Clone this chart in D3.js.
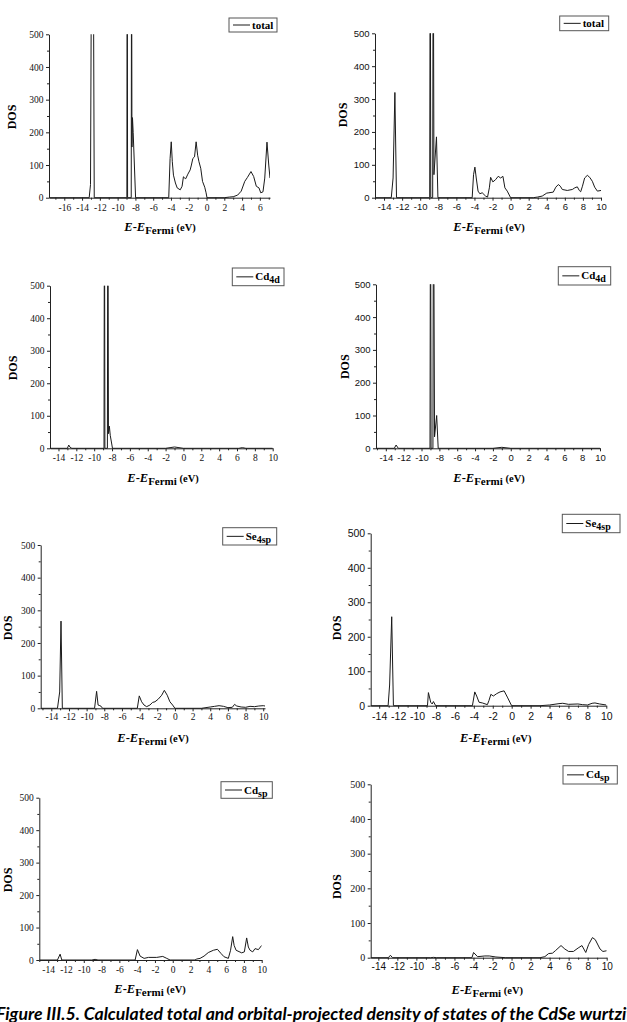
<!DOCTYPE html>
<html>
<head>
<meta charset="utf-8">
<script src="https://cdn.jsdelivr.net/npm/d3@7"></script>
<style>
body { margin:0; background:#fff; }
</style>
</head>
<body>
<svg id="fig" width="627" height="1022"></svg>
<script>
// DOS curves: [E - E_Fermi (eV), DOS]
// values above 500 are spikes that get clipped by the frame
var totalA = [[-17.7,0],[-13.2,0],[-13.05,40],[-12.92,900],[-12.75,900],[-12.63,0],[-8.96,0],[-8.92,900],[-8.88,0],[-8.47,0],[-8.43,900],[-8.39,155],[-8.33,245],[-8.25,200],[-7.98,0],[-4.25,0],[-4.1,120],[-3.97,171],[-3.85,110],[-3.72,69],[-3.5,45],[-3.3,30],[-2.96,24],[-2.75,35],[-2.6,64],[-2.45,60],[-2.34,58],[-2.1,72],[-1.84,85],[-1.7,100],[-1.54,120],[-1.35,125],[-1.17,171],[-1.0,130],[-0.85,110],[-0.65,90],[-0.45,50],[-0.2,32],[-0.05,15],[0.05,0],[2.0,0],[2.6,2],[3.0,3],[3.5,8],[3.9,20],[4.3,50],[4.6,62],[5.0,80],[5.3,65],[5.6,35],[5.9,30],[6.1,15],[6.35,18],[6.55,60],[6.8,170],[7.0,100],[7.14,60]];
var totalB = [[-15,0],[-13.2,0],[-13.0,60],[-12.8,320],[-12.62,0],[-8.95,0],[-8.89,900],[-8.83,0],[-8.62,0],[-8.56,900],[-8.48,70],[-8.2,185],[-8.04,0],[-4.25,0],[-4.1,70],[-3.95,93],[-3.8,60],[-3.6,20],[-3.4,12],[-3.14,15],[-2.77,5],[-2.55,2],[-2.35,30],[-2.21,62],[-1.96,48],[-1.66,55],[-1.37,65],[-1.1,60],[-0.85,65],[-0.63,30],[-0.37,20],[0,0],[2.5,0],[3.0,2],[3.5,5],[4.0,14],[4.24,15],[4.72,17],[5.0,32],[5.28,40],[5.5,35],[5.72,25],[6.27,22],[6.83,25],[7.1,30],[7.38,33],[7.6,22],[7.75,18],[7.95,35],[8.19,60],[8.49,68],[8.75,62],[9.04,50],[9.3,32],[9.6,20],[10,22]];
var cd4dA = [[-14.95,0],[-13.0,0],[-12.85,10],[-12.7,3],[-12.5,0],[-8.9,0],[-8.85,900],[-8.8,0],[-8.52,0],[-8.47,900],[-8.4,45],[-8.3,68],[-8.2,40],[-7.95,0],[-2.0,0],[-1.5,2],[-1.0,4],[-0.5,2],[0,0],[6.2,0],[6.6,2],[7.0,0],[10,0]];
var cd4dB = [[-15.1,0],[-13.05,0],[-12.85,10],[-12.6,0],[-9.05,0],[-8.99,900],[-8.93,0],[-8.72,0],[-8.66,900],[-8.54,35],[-8.3,100],[-8.13,0],[-2.0,0],[-1.0,3],[0,0],[10,0]];
var se4spA = [[-15.2,0],[-13.3,0],[-13.05,50],[-12.9,267],[-12.75,0],[-9.1,0],[-8.87,52],[-8.7,10],[-8.5,8],[-8.35,6],[-8.2,0],[-4.26,0],[-4.04,38],[-3.77,20],[-3.5,10],[-3.2,5],[-2.83,10],[-2.53,18],[-2.26,20],[-1.89,28],[-1.5,40],[-1.2,55],[-0.87,40],[-0.57,20],[-0.26,10],[0,0],[3.0,0],[4.0,4],[4.5,6],[5.0,8],[5.5,6],[6.0,2],[6.5,3],[6.75,12],[7.0,7],[7.5,4],[8.0,3],[8.5,6],[9.0,5],[9.5,7],[10.0,8],[10.2,7]];
var se4spB = [[-14.9,0],[-13.06,0],[-12.9,60],[-12.68,258],[-12.5,0],[-8.9,0],[-8.8,38],[-8.56,10],[-8.4,5],[-8.27,12],[-8.03,0],[-4.15,0],[-3.9,40],[-3.7,28],[-3.45,10],[-3.1,8],[-2.57,3],[-2.4,15],[-2.2,33],[-1.94,28],[-1.58,35],[-1.23,40],[-0.8,43],[-0.46,25],[-0.1,5],[0,0],[3.0,0],[4.0,2],[5.0,6],[5.4,7],[6.0,4],[7.0,5],[7.5,3],[8.0,2],[8.5,7],[8.8,8],[9.3,5],[10,2]];
var cdspA = [[-15,0],[-12.96,0],[-12.66,18],[-12.47,0],[-9.1,0],[-8.73,2],[-8.4,0],[-4.23,0],[-3.97,32],[-3.67,12],[-3.22,5],[-2.73,8],[-1.8,8],[-1.12,11],[-0.67,5],[-0.3,0],[2.5,0],[2.7,3],[3.07,5],[3.52,12],[4.0,23],[4.57,30],[5.02,33],[5.43,20],[5.77,10],[6.25,5],[6.5,30],[6.74,72],[6.9,45],[7.12,30],[7.75,22],[8.05,25],[8.31,68],[8.5,40],[8.69,30],[8.99,25],[9.25,35],[9.63,32],[10,45]];
var cdspB = [[-14.8,0],[-12.95,0],[-12.73,7],[-12.5,0],[-8.5,0],[-8.2,1],[-7.9,0],[-4.16,0],[-3.99,15],[-3.57,3],[-2.8,5],[-2.34,5],[-1.64,2],[-0.6,0],[3.0,0],[3.5,3],[3.9,12],[4.3,13],[4.6,20],[5.2,35],[5.6,25],[6.0,18],[6.5,18],[7.0,28],[7.4,35],[7.8,15],[8.1,38],[8.5,58],[8.8,52],[9.3,25],[9.6,18],[10,20]];

var yTicks = [0, 100, 200, 300, 400, 500];
var xTicksA = [-16, -14, -12, -10, -8, -6, -4, -2, 0, 2, 4, 6];
var xTicksB = [-14, -12, -10, -8, -6, -4, -2, 0, 2, 4, 6, 8, 10];
var legendNames = ["total", "total", "Cd", "Cd", "Se", "Se", "Cd", "Cd"];
var legendSubs = ["", "", "4d", "4d", "4sp", "4sp", "sp", "sp"];
var caption = "Figure III.5. Calculated total and orbital-projected density of states of the CdSe wurtzite structure.";

var serif = "'Liberation Serif','DejaVu Serif',serif",
    sans = "'Liberation Sans',Arial,sans-serif";

// frame of each small plot on the page
var panels = [
  {data: totalA, dom: [-17.72, 7.14], xt: xTicksA, x0: 49, x1: 270, yt: 34.3, yb: 197.7, leg: [229, 18, 48, 14], dosX: 12, dosY: 117, labX: 160, labY: 231, tickY: 211.5, xf: serif, yf: serif, fs: 9.5},
  {data: totalB, dom: [-15, 10], xt: xTicksB, x0: 375, x1: 601, yt: 33.3, yb: 197.7, leg: [559.7, 16, 49, 14.7], dosX: 343, dosY: 115, labX: 489, labY: 231, tickY: 210.5, xf: sans, yf: sans, fs: 9.5},
  {data: cd4dA, dom: [-14.95, 10], xt: xTicksB, x0: 50, x1: 272.7, yt: 285.7, yb: 448.3, leg: [232.3, 268, 51.7, 17.7], dosX: 13, dosY: 368, labX: 163, labY: 482, tickY: 461.5, xf: serif, yf: serif, fs: 9.5},
  {data: cd4dB, dom: [-15.1, 10], xt: xTicksB, x0: 376, x1: 600, yt: 284.3, yb: 448.3, leg: [558.3, 266.7, 52.4, 18.3], dosX: 344.7, dosY: 366.7, labX: 489, labY: 482, tickY: 461, xf: sans, yf: sans, fs: 9.5},
  {data: se4spA, dom: [-15.2, 10.2], xt: xTicksB, x0: 40.7, x1: 265, yt: 545, yb: 708.3, leg: [222.7, 527.7, 54, 17.3], dosX: 7.5, dosY: 628, labX: 153, labY: 742, tickY: 720, xf: serif, yf: serif, fs: 9.5},
  {data: se4spB, dom: [-14.9, 10], xt: xTicksB, x0: 370.7, x1: 606.3, yt: 533.3, yb: 705.7, leg: [562.3, 514.3, 57.7, 18.4], dosX: 336.7, dosY: 628, labX: 495.7, labY: 742, tickY: 720, xf: sans, yf: sans, fs: 10.5},
  {data: cdspA, dom: [-15, 10], xt: xTicksB, x0: 39.3, x1: 261.7, yt: 797.7, yb: 960, leg: [221, 781.7, 51.3, 16.6], dosX: 7.5, dosY: 880, labX: 150, labY: 992.5, tickY: 972.5, xf: serif, yf: serif, fs: 9.5},
  {data: cdspB, dom: [-14.8, 10], xt: xTicksB, x0: 370.7, x1: 606.7, yt: 784.3, yb: 957.7, leg: [563, 765.7, 54.3, 18.3], dosX: 336.7, dosY: 886.7, labX: 487.3, labY: 993.5, tickY: 970.5, xf: sans, yf: serif, fs: 10}
];

var svg = d3.select("#fig");

panels.forEach(function(p, i){
  var x = d3.scaleLinear().domain(p.dom).range([p.x0, p.x1]);
  var y = d3.scaleLinear().domain([0, 500]).range([p.yb, p.yt]);
  var g = svg.append("g").attr("class", "panel");

  g.append("clipPath").attr("id", "clip" + i)
    .append("rect")
    .attr("x", p.x0).attr("y", p.yt)
    .attr("width", p.x1 - p.x0).attr("height", p.yb - p.yt + 2);

  var line = d3.line().x(function(d){ return x(d[0]); }).y(function(d){ return y(d[1]); });

  g.append("path")
    .datum(p.data)
    .attr("clip-path", "url(#clip" + i + ")")
    .attr("d", line)
    .attr("fill", "none")
    .attr("stroke", "#1a1a1a")
    .attr("stroke-width", 1);

  // minor ticks first
  var xMinor = d3.range(Math.ceil(p.dom[0]), Math.floor(p.dom[1]) + 1).filter(function(v){ return p.xt.indexOf(v) < 0; });
  g.append("g").attr("transform", "translate(0," + p.yb + ")")
    .call(d3.axisBottom(x).tickValues(xMinor).tickSize(2).tickSizeOuter(0).tickFormat(""))
    .call(function(a){ a.select(".domain").remove(); });
  g.append("g").attr("transform", "translate(" + p.x0 + ",0)")
    .call(d3.axisLeft(y).tickValues([50, 150, 250, 350, 450]).tickSize(2).tickSizeOuter(0).tickFormat(""))
    .call(function(a){ a.select(".domain").remove(); });

  var xa = g.append("g").attr("transform", "translate(0," + p.yb + ")")
    .call(d3.axisBottom(x).tickValues(p.xt).tickSize(3).tickSizeOuter(0)
      .tickPadding(p.tickY - p.yb - 3 - 0.71 * p.fs)
      .tickFormat(function(d){ return String(d); }));
  xa.selectAll("text").attr("font-family", p.xf).attr("font-size", p.fs).attr("fill", "#111");

  var ya = g.append("g").attr("transform", "translate(" + p.x0 + ",0)")
    .call(d3.axisLeft(y).tickValues(yTicks).tickSize(3).tickSizeOuter(0).tickPadding(2.5)
      .tickFormat(function(d){ return String(d); }));
  ya.selectAll("text").attr("font-family", p.yf).attr("font-size", p.fs).attr("fill", "#111");

  g.selectAll(".domain, .tick line").attr("stroke", "#222");

  // axis titles
  g.append("text")
    .attr("transform", "translate(" + p.dosX + "," + p.dosY + ") rotate(-90)")
    .attr("text-anchor", "middle")
    .attr("dy", "0.35em")
    .attr("font-family", serif).attr("font-weight", "bold").attr("font-size", 12)
    .text("DOS");

  var t = g.append("text")
    .attr("x", p.labX).attr("y", p.labY)
    .attr("text-anchor", "middle")
    .attr("font-family", serif).attr("font-weight", "bold").attr("font-size", 12.5);
  t.append("tspan").attr("font-style", "italic").text("E");
  t.append("tspan").text("-");
  t.append("tspan").attr("font-style", "italic").text("E");
  t.append("tspan").attr("font-size", 11).attr("dy", 3).text("Fermi");
  t.append("tspan").attr("font-size", 10.5).attr("dy", -3).text(" (eV)");

  // legend box
  var lg = g.append("g");
  lg.append("rect")
    .attr("x", p.leg[0]).attr("y", p.leg[1])
    .attr("width", p.leg[2]).attr("height", p.leg[3])
    .attr("fill", "#fff").attr("stroke", "#555").attr("stroke-width", 1);
  var cy = p.leg[1] + p.leg[3] / 2;
  lg.append("line")
    .attr("x1", p.leg[0] + 4).attr("x2", p.leg[0] + 21)
    .attr("y1", cy).attr("y2", cy)
    .attr("stroke", "#1a1a1a").attr("stroke-width", 1);
  var lt = lg.append("text")
    .attr("x", p.leg[0] + 23).attr("y", cy + 3.5)
    .attr("font-family", serif).attr("font-weight", "bold").attr("font-size", 11);
  lt.append("tspan").text(legendNames[i]);
  if (legendSubs[i]) lt.append("tspan").attr("font-size", 10).attr("dy", 3).text(legendSubs[i]);
});

// caption, cut off at the right edge like the page scan
var cap = svg.append("text")
  .attr("x", -4).attr("y", 1019.5)
  .attr("font-family", "Lato,'Open Sans',sans-serif")
  .attr("font-weight", "bold").attr("font-style", "italic")
  .attr("font-size", 16)
  .text(caption.slice(0, caption.indexOf("wurtzi") + 6));
var w = cap.node().getComputedTextLength();
cap.attr("font-size", 16 * 631 / w).text(caption);
</script>
</body>
</html>
